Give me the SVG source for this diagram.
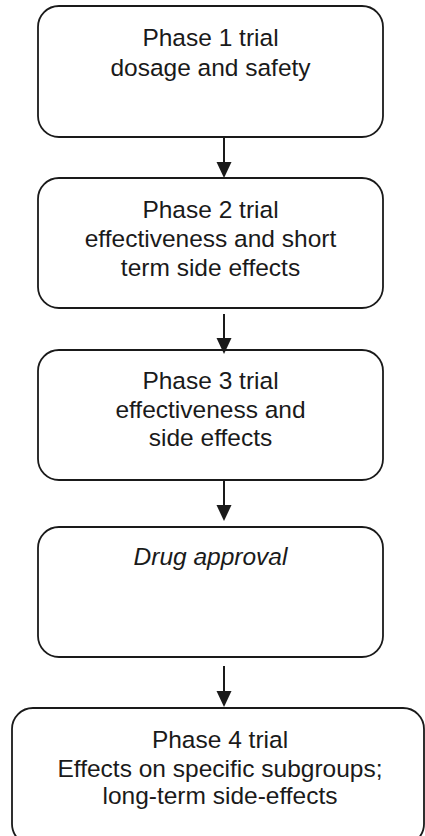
<svg xmlns="http://www.w3.org/2000/svg" width="425" height="836" viewBox="0 0 425 836">
<defs>
<style>
.box{fill:#fff;stroke:#1a1a1a;stroke-width:1.8}
.t{font-family:"Liberation Sans",Arial,sans-serif;font-size:24.5px;fill:#1a1a1a;text-anchor:middle}
.c{stroke:#1a1a1a;stroke-width:2;fill:none}
.h{fill:#1a1a1a}
</style>
</defs>
<rect width="425" height="836" fill="#fff"/>
<g id="phase1">
<rect class="box" x="38" y="6" width="345" height="131" rx="21"/>
<text class="t" x="210.5" y="46">Phase 1 trial</text>
<text class="t" x="210.5" y="76">dosage and safety</text>
</g>
<g id="phase2">
<rect class="box" x="38" y="178" width="345" height="130" rx="21"/>
<text class="t" x="210.5" y="218">Phase 2 trial</text>
<text class="t" x="210.5" y="247">effectiveness and short</text>
<text class="t" x="210.5" y="276">term side effects</text>
</g>
<g id="phase3">
<rect class="box" x="38" y="350" width="345" height="130" rx="21"/>
<text class="t" x="210.5" y="389">Phase 3 trial</text>
<text class="t" x="210.5" y="418">effectiveness and</text>
<text class="t" x="210.5" y="446">side effects</text>
</g>
<g id="approval">
<rect class="box" x="38" y="527" width="345" height="130" rx="21"/>
<text class="t" x="210.5" y="565" font-style="italic">Drug approval</text>
</g>
<g id="phase4">
<rect class="box" x="12" y="708" width="412" height="137" rx="21"/>
<text class="t" x="220" y="748">Phase 4 trial</text>
<text class="t" x="220" y="777">Effects on specific subgroups;</text>
<text class="t" x="220" y="804">long-term side-effects</text>
</g>
<g id="connectors">
<line class="c" x1="224" y1="137" x2="224" y2="162"/>
<path class="h" d="M216.5,162 L231.5,162 L224,178 Z"/>
<line class="c" x1="224" y1="314" x2="224" y2="338"/>
<path class="h" d="M216.5,338 L231.5,338 L224,354 Z"/>
<line class="c" x1="224" y1="481" x2="224" y2="505"/>
<path class="h" d="M216.5,505 L231.5,505 L224,521 Z"/>
<line class="c" x1="224" y1="666" x2="224" y2="691"/>
<path class="h" d="M216.5,691 L231.5,691 L224,707 Z"/>
</g>
</svg>
